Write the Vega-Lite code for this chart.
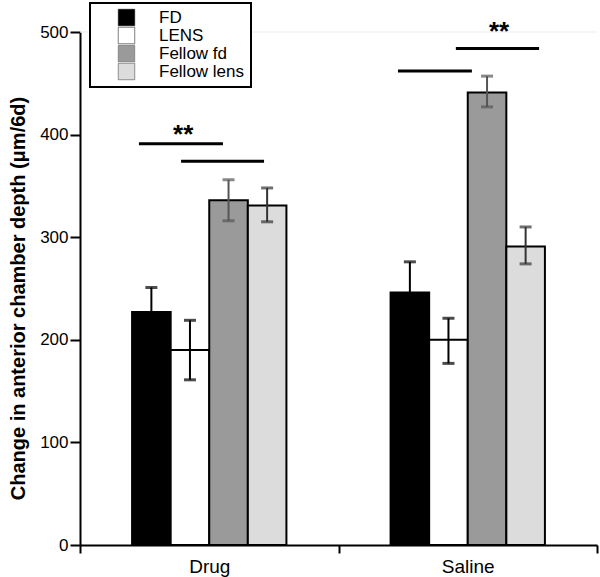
{
  "$schema": "https://vega.github.io/schema/vega-lite/v6.json",
  "width": 517,
  "height": 513,
  "autosize": {"type": "none"},
  "padding": {"left": 80, "top": 32, "right": 3, "bottom": 32},
  "background": "white",
  "config": {"view": {"stroke": null}, "font": "Liberation Sans", "legend": {"strokeWidth": 2}},
  "datasets": {
    "bars": [
      {"group": "Drug", "series": "FD", "value": 227, "lo": 203, "hi": 251},
      {"group": "Drug", "series": "LENS", "value": 190, "lo": 161, "hi": 219},
      {"group": "Drug", "series": "Fellow fd", "value": 336, "lo": 316, "hi": 356},
      {"group": "Drug", "series": "Fellow lens", "value": 331, "lo": 315, "hi": 348},
      {"group": "Saline", "series": "FD", "value": 246, "lo": 216, "hi": 276},
      {"group": "Saline", "series": "LENS", "value": 200, "lo": 177, "hi": 221},
      {"group": "Saline", "series": "Fellow fd", "value": 441, "lo": 427, "hi": 457},
      {"group": "Saline", "series": "Fellow lens", "value": 291, "lo": 274, "hi": 310}
    ],
    "sig": [
      {"start": 0.228, "end": 0.553, "level": 391},
      {"start": 0.391, "end": 0.712, "level": 374},
      {"start": 1.230, "end": 1.516, "level": 462},
      {"start": 1.454, "end": 1.776, "level": 484}
    ],
    "stars": [
      {"pos": 0.399, "level": 392, "label": "**"},
      {"pos": 1.621, "level": 492, "label": "**"}
    ],
    "top": [{"level": 500}]
  },
  "layer": [
    {
      "layer": [
        {
          "data": {"name": "top"},
          "mark": {"type": "rule", "color": "#ececec", "strokeWidth": 1},
          "encoding": {"y": {"field": "level", "type": "quantitative", "scale": {"domain": [0, 500]}}}
        },
        {
          "data": {"name": "bars"},
          "mark": {"type": "bar", "stroke": "black", "strokeWidth": 2},
          "encoding": {
            "x": {
              "field": "group", "type": "nominal",
              "scale": {"paddingInner": 0, "paddingOuter": 0},
              "axis": {
                "title": null, "labelAngle": 0, "labelFontSize": 19, "labelColor": "black",
                "labelPadding": 4, "domainColor": "black", "domainWidth": 2,
                "tickColor": "black", "tickWidth": 2, "tickSize": 8, "tickBand": "extent"
              }
            },
            "xOffset": {
              "field": "series", "type": "nominal",
              "scale": {"domain": ["pad1", "FD", "LENS", "Fellow fd", "Fellow lens", "pad2"], "paddingInner": 0, "paddingOuter": 0.35}
            },
            "y": {
              "field": "value", "type": "quantitative",
              "scale": {"domain": [0, 500]},
              "axis": {
                "values": [0, 100, 200, 300, 400, 500], "grid": false,
                "labelFontSize": 17, "labelColor": "black", "labelPadding": 2,
                "domainColor": "black", "domainWidth": 2,
                "tickColor": "black", "tickWidth": 2, "tickSize": 10,
                "title": "Change in anterior chamber depth (μm/6d)",
                "titleFontSize": 20, "titleFontWeight": "bold", "titleColor": "black",
                "titleAngle": -90, "titleX": -62, "titleY": 266,
                "titleAlign": "center", "titleBaseline": "middle"
              }
            },
            "fill": {
              "field": "series", "type": "nominal",
              "scale": {"domain": ["FD", "LENS", "Fellow fd", "Fellow lens"], "range": ["#000000", "#ffffff", "#9a9a9a", "#dcdcdc"]},
              "legend": {
                "orient": "none", "legendX": 10, "legendY": -29, "title": null,
                "strokeColor": "black", "fillColor": "white", "padding": 6,
                "symbolType": "square", "symbolSize": 272, "symbolOffset": 22,
                "symbolStrokeColor": "#b0b0b0", "symbolStrokeWidth": 0.5,
                "labelOffset": 24, "labelFontSize": 17, "labelColor": "black",
                "rowPadding": -2, "labelLimit": 200
              }
            }
          }
        },
        {
          "data": {"name": "bars"},
          "mark": {"type": "rule", "strokeWidth": 2},
          "encoding": {
            "x": {"field": "group", "type": "nominal"},
            "xOffset": {"field": "series", "type": "nominal"},
            "y": {"field": "lo", "type": "quantitative"},
            "y2": {"field": "hi"},
            "color": {
              "field": "series", "type": "nominal",
              "scale": {"domain": ["FD", "LENS", "Fellow fd", "Fellow lens"], "range": ["#000000", "#000000", "#555555", "#333333"]},
              "legend": null
            }
          }
        },
        {
          "data": {"name": "bars"},
          "mark": {"type": "tick", "thickness": 3, "size": 12, "orient": "horizontal"},
          "encoding": {
            "x": {"field": "group", "type": "nominal"},
            "xOffset": {"field": "series", "type": "nominal"},
            "y": {"field": "hi", "type": "quantitative"},
            "color": {"field": "series", "type": "nominal", "legend": null}
          }
        },
        {
          "data": {"name": "bars"},
          "mark": {"type": "tick", "thickness": 3, "size": 12, "orient": "horizontal"},
          "encoding": {
            "x": {"field": "group", "type": "nominal"},
            "xOffset": {"field": "series", "type": "nominal"},
            "y": {"field": "lo", "type": "quantitative"},
            "color": {"field": "series", "type": "nominal", "legend": null}
          }
        }
      ]
    },
    {
      "layer": [
        {
          "data": {"name": "sig"},
          "mark": {"type": "rule", "color": "black", "strokeWidth": 3},
          "encoding": {
            "x": {"field": "start", "type": "quantitative", "scale": {"domain": [0, 2], "nice": false, "zero": false}, "axis": null},
            "x2": {"field": "end"},
            "y": {"field": "level", "type": "quantitative"}
          }
        },
        {
          "data": {"name": "stars"},
          "mark": {"type": "text", "fontSize": 26, "fontWeight": "bold", "color": "black", "baseline": "alphabetic", "align": "center"},
          "encoding": {
            "x": {"field": "pos", "type": "quantitative", "scale": {"domain": [0, 2], "nice": false, "zero": false}, "axis": null},
            "y": {"field": "level", "type": "quantitative"},
            "text": {"field": "label"}
          }
        }
      ]
    }
  ],
  "resolve": {"scale": {"x": "independent"}}
}
